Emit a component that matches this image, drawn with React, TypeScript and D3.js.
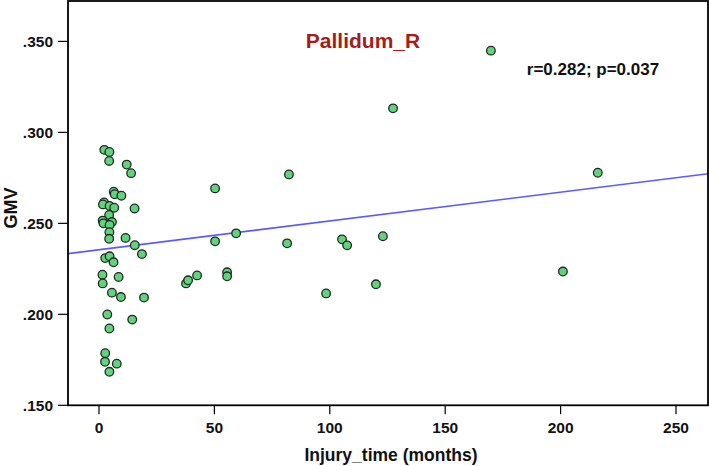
import React from "react";
import * as d3 from "d3";

const injuryMonths: number[] = [
  2.3, 4.5, 4.4, 12.0, 13.9, 6.4, 6.8, 9.7, 2.2, 1.7, 4.6, 6.6, 15.4, 4.4, 1.6, 1.9, 5.6, 4.6, 4.5, 4.4,
  11.5, 15.5, 18.6, 2.7, 4.6, 6.3, 1.5, 8.5, 1.6, 5.6, 9.5, 19.5, 3.6, 14.4, 4.5, 2.7, 2.6, 7.7, 4.5,
  169.8, 127.4, 82.3, 50.3, 59.4, 50.3, 81.5, 105.3, 107.5, 123.0, 37.7, 38.6, 42.5, 55.5, 55.5, 98.4,
  120.0, 216.1, 201.0,
];
const gmvValues: number[] = [
  0.2904, 0.2892, 0.2843, 0.2823, 0.2776, 0.2674, 0.266, 0.2652, 0.2615, 0.2604, 0.2596, 0.2586, 0.2582,
  0.2546, 0.2515, 0.25, 0.2507, 0.2491, 0.2451, 0.2415, 0.242, 0.238, 0.2331, 0.2309, 0.2319, 0.2286,
  0.2218, 0.2205, 0.217, 0.2119, 0.2095, 0.2092, 0.1999, 0.1971, 0.1922, 0.1786, 0.1739, 0.1729, 0.1684,
  0.3449, 0.3132, 0.2769, 0.2692, 0.2445, 0.2401, 0.239, 0.2412, 0.2379, 0.2429, 0.217, 0.2187, 0.2214,
  0.2231, 0.2209, 0.2115, 0.2165, 0.2778, 0.2235,
];
const xTicks: number[] = [0, 50, 100, 150, 200, 250];
const yTicks: number[] = [0.15, 0.2, 0.25, 0.3, 0.35];
const fitIntercept = 0.2355;
const fitSlope = 0.0001583;
const chartTitle = "Pallidum_R";
const statText = "r=0.282; p=0.037";
const xTitle = "Injury_time (months)";
const yTitle = "GMV";

export default function App() {
  const W = 709;
  const H = 466;
  const left = 68;
  const right = 708;
  const top = 1;
  const bottom = 405.3;
  const x = d3.scaleLinear().domain([-13.43, 263.86]).range([left, right]);
  const y = d3.scaleLinear().domain([0.15, 0.3722]).range([bottom, top]);
  const fmtY = (v: number) => d3.format(".3f")(v).replace(/^0/, "");
  const [x0, x1] = x.domain();
  const lineGen = d3
    .line<number>()
    .x((d) => x(d))
    .y((d) => y(fitIntercept + fitSlope * d));
  const font = "Arial, 'Liberation Sans', sans-serif";
  return (
    <svg
      width={W}
      height={H}
      style={{ position: "absolute", left: 0, top: 0, background: "#fff" }}
      fontFamily={font}
    >
      <rect x={0} y={0} width={W} height={H} fill="#fff" />
      <defs>
        <clipPath id="plotclip">
          <rect x={left} y={top} width={right - left} height={bottom - top} />
        </clipPath>
      </defs>
      {yTicks.map((t) => (
        <g key={"y" + t}>
          <line x1={left - 10} x2={left} y1={y(t)} y2={y(t)} stroke="#000" strokeWidth={1.2} />
          <text
            x={left - 15}
            y={y(t)}
            dy="0.36em"
            textAnchor="end"
            fontSize={15.5}
            fontWeight="bold"
            fill="#111"
          >
            {fmtY(t)}
          </text>
        </g>
      ))}
      {xTicks.map((t) => (
        <g key={"x" + t}>
          <line x1={x(t)} x2={x(t)} y1={bottom} y2={bottom + 9} stroke="#000" strokeWidth={1.2} />
          <text x={x(t)} y={bottom + 28} textAnchor="middle" fontSize={15.5} fontWeight="bold" fill="#111">
            {t}
          </text>
        </g>
      ))}
      <g clipPath="url(#plotclip)">
        <path d={lineGen([x0, x1]) || ""} stroke="#5a5aff" strokeWidth={1.6} fill="none" />
        {injuryMonths.map((m, i) => (
          <circle
            key={i}
            cx={x(m)}
            cy={y(gmvValues[i])}
            r={4.3}
            fill="#62d27c"
            stroke="#1e2a22"
            strokeWidth={1.3}
          />
        ))}
      </g>
      <rect
        x={left}
        y={top}
        width={right - left}
        height={bottom - top}
        fill="none"
        stroke="#000"
        strokeWidth={1.8}
      />
      <text x={363} y={47.5} textAnchor="middle" fontSize={21} fontWeight="bold" fill="#a51c1c">
        {chartTitle}
      </text>
      <text x={593} y={75} textAnchor="middle" fontSize={17} fontWeight="bold" fill="#111">
        {statText}
      </text>
      <text x={391} y={461} textAnchor="middle" fontSize={17.5} fontWeight="bold" fill="#111">
        {xTitle}
      </text>
      <text
        transform={`translate(${17}, ${208}) rotate(-90)`}
        textAnchor="middle"
        fontSize={18}
        fontWeight="bold"
        fill="#111"
      >
        {yTitle}
      </text>
    </svg>
  );
}
